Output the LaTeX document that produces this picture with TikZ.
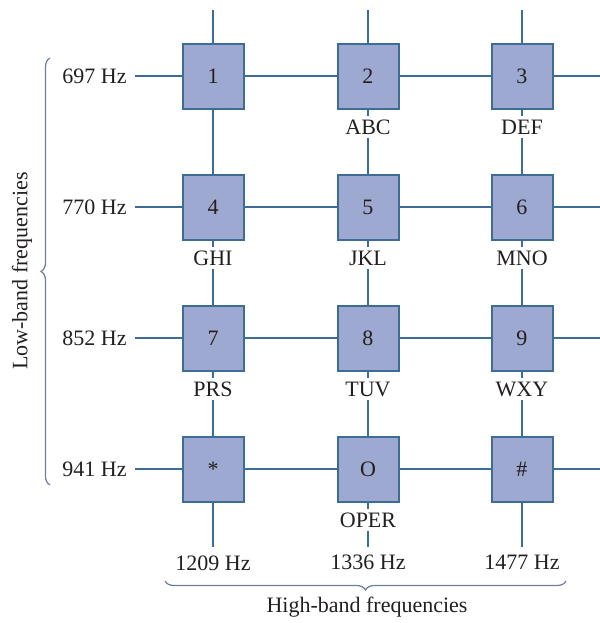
\documentclass[tikz,border=0pt]{standalone}
\usepackage{fontspec}
\setmainfont{Liberation Serif}
\usetikzlibrary{positioning,decorations.pathreplacing}

\definecolor{keyfill}{HTML}{9DA9D0}
\definecolor{wireblue}{HTML}{3D6C96}
\definecolor{ink}{HTML}{231F20}
\definecolor{bracegray}{HTML}{6E8099}

\begin{document}
\begin{tikzpicture}[
		x=0.5pt,
		y=-0.5pt,
		every node/.style={
			text=ink,
			font=\fontsize{11}{13}\selectfont
		},
		keybox/.style={
			rectangle,
			draw=wireblue,
			fill=keyfill,
			line width=1pt,
			minimum width=30.5pt,
			minimum height=32.5pt,
			inner sep=0pt
		},
		letters/.style={
			inner sep=1.5pt
		},
		freq/.style={
			inner sep=4pt
		},
		wire/.style={
			draw=wireblue,
			line width=0.7pt
		},
		bracket/.style={
			draw=bracegray,
			line width=0.6pt,
			decorate,
			decoration={brace,amplitude=4.5pt}
		}
		]
		
		\useasboundingbox (0,0) rectangle (600,623);
		
		% keys
		\node[keybox] (k1) at (213,76) {1};
		\node[keybox] (k2) at (368,76) {2};
		\node[keybox] (k3) at (522,76) {3};
		\node[keybox] (k4) at (213,207) {4};
		\node[keybox] (k5) at (368,207) {5};
		\node[keybox] (k6) at (522,207) {6};
		\node[keybox] (k7) at (213,338) {7};
		\node[keybox] (k8) at (368,338) {8};
		\node[keybox] (k9) at (522,338) {9};
		\node[keybox] (kstar) at (213,469) {*};
		\node[keybox] (k0) at (368,469) {O};
		\node[keybox] (khash) at (522,469) {\#};
		
		% letters under the keys
		\node[letters] (abc) at (368,127) {ABC};
		\node[letters] (def) at (522,127) {DEF};
		\node[letters] (ghi) at (213,258) {GHI};
		\node[letters] (jkl) at (368,258) {JKL};
		\node[letters] (mno) at (522,258) {MNO};
		\node[letters] (prs) at (213,389) {PRS};
		\node[letters] (tuv) at (368,389) {TUV};
		\node[letters] (wxy) at (522,389) {WXY};
		\node[letters] (oper) at (368,520) {OPER};
		
		% low-band frequencies
		\node[freq, anchor=east] (f697) at (135,76) {697 Hz};
		\node[freq, anchor=east] (f770) at (135,207) {770 Hz};
		\node[freq, anchor=east] (f852) at (135,338) {852 Hz};
		\node[freq, anchor=east] (f941) at (135,469) {941 Hz};
		
		% high-band frequencies
		\node[freq, anchor=north] (f1209) at (213,547) {1209 Hz};
		\node[freq, anchor=north] (f1336) at (368,547) {1336 Hz};
		\node[freq, anchor=north] (f1477) at (522,547) {1477 Hz};
		
		% free ends of the wires
		\coordinate (t1) at (213,10);
		\coordinate (t2) at (368,10);
		\coordinate (t3) at (522,10);
		\coordinate (e1) at (600,76);
		\coordinate (e2) at (600,207);
		\coordinate (e3) at (600,338);
		\coordinate (e4) at (600,469);
		
		\draw[wire] (f697) -- (k1) -- (k2) -- (k3) -- (e1);
		\draw[wire] (f770) -- (k4) -- (k5) -- (k6) -- (e2);
		\draw[wire] (f852) -- (k7) -- (k8) -- (k9) -- (e3);
		\draw[wire] (f941) -- (kstar) -- (k0) -- (khash) -- (e4);
		
		\draw[wire] (t1) -- (k1) -- (k4) -- (ghi) -- (k7) -- (prs) -- (kstar) -- (f1209);
		\draw[wire] (t2) -- (k2) -- (abc) -- (k5) -- (jkl) -- (k8) -- (tuv) -- (k0) -- (oper) -- (f1336);
		\draw[wire] (t3) -- (k3) -- (def) -- (k6) -- (mno) -- (k9) -- (wxy) -- (khash) -- (f1477);
		
		% braces
		\coordinate (lowtop) at (50,58);
		\coordinate (lowbot) at (50,485);
		\coordinate (highl) at (165,581);
		\coordinate (highr) at (566,581);
		
		\draw[bracket] (lowbot) -- (lowtop);
		\draw[bracket] (highr) -- (highl);
		
		\node[rotate=90] (lowband) at (22,271) {Low-band frequencies};
		\node (highband) at (367,607) {High-band frequencies};
		
	\end{tikzpicture}
\end{document}
